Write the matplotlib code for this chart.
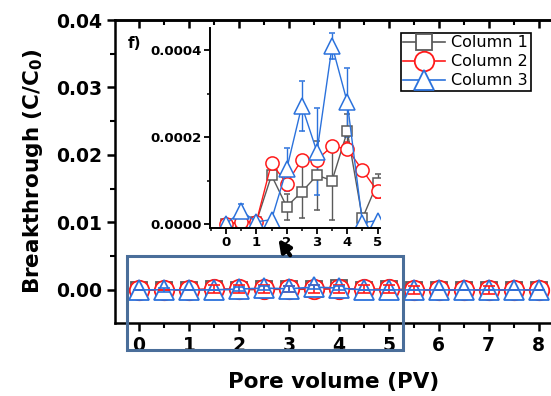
import numpy as np
import matplotlib.pyplot as plt
from matplotlib.patches import Rectangle
from matplotlib.ticker import MultipleLocator

# pore volume positions
pv = [0, 0.5, 1, 1.5, 2, 2.5, 3, 3.5, 4, 4.5, 5, 5.5, 6, 6.5, 7, 7.5, 8]

# breakthrough C/C0 for each column
col1 = [0, 0.000003, 0.000005, 0.000112, 0.00004, 0.000074, 0.000112, 0.0001,
        0.000213, 0.000013, 0.000095, 0.000002, 0, 0, 0.000001, 0, 0]
col2 = [0, 0.000005, 0.000005, 0.00014, 0.000093, 0.000148, 0.000148, 0.000179,
        0.000173, 0.000124, 0.000075, 0.00004, 0, 0, 0.00002, 0, 0]
col3 = [0, 0.00003, 0.000005, 0.00001, 0.000126, 0.000272, 0.000166, 0.00041,
        0.00028, 0.000003, 0.000008, 0, 0, 0, 0, 0, 0]

# error bars (inset scale)
err1 = [0, 0, 0.000003, 0.000005, 0.00003, 0.00006, 0.00008, 0.00009,
        0.00004, 0.000003, 0.00002, 0, 0, 0, 0, 0, 0]
err2 = [0, 0.000003, 0, 0.00001, 0.00001, 0.00001, 0.000006, 0.00001,
        0.000015, 0.000008, 0.000015, 0.00003, 0, 0, 0.00003, 0, 0]
err3 = [0, 0.000015, 0, 0, 0.00005, 0.000057, 0.0001, 0.00003,
        0.00008, 0, 0, 0, 0, 0, 0, 0, 0]

# error bars as they appear on the main axes
main_err2 = [0, 0, 0, 0.0006, 0.0006, 0.0006, 0.0004, 0.0006,
             0.0006, 0.0006, 0.0006, 0.0006, 0, 0, 0.0006, 0, 0]
main_err3 = [0, 0.0003, 0, 0, 0.0003, 0.0003, 0.0004, 0.0003,
             0.0003, 0, 0, 0, 0, 0, 0, 0, 0]

labels = ['Column 1', 'Column 2', 'Column 3']

GRAY = '#5a5a5a'
RED = '#ff1a1a'
BLUE = '#2b72dc'
BOX = '#4a6e9a'

plt.rcParams['font.family'] = 'DejaVu Sans'

W, H = 551, 396
fig = plt.figure(figsize=(W / 100, H / 100), dpi=100)

# ---------------- main axes ----------------
ax = fig.add_axes([115 / W, 1 - 323 / H, (552 - 115) / W, (323 - 20) / H])

styles = [(col1, 's', GRAY, 12), (col2, 'o', RED, 14), (col3, '^', BLUE, 15)]
handles = []
for (y, m, c, ms), lab in zip(styles, labels):
    h, = ax.plot(pv, y, marker=m, color=c, ms=ms, mfc='white', mec=c,
                 mew=1.3, lw=1.2, label=lab)
    handles.append(h)
ax.errorbar(pv, col2, yerr=main_err2, fmt='none', ecolor=RED, elinewidth=1.2,
            capsize=4, capthick=1.2, zorder=5)
ax.errorbar(pv, col3, yerr=main_err3, fmt='none', ecolor=BLUE, elinewidth=1.2,
            capsize=4, capthick=1.2, zorder=5)

ax.set_xlim(-0.48, 8.27)
ax.set_ylim(-0.0049, 0.04)
ax.xaxis.set_major_locator(MultipleLocator(1))
ax.xaxis.set_minor_locator(MultipleLocator(0.5))
ax.yaxis.set_major_locator(MultipleLocator(0.01))
ax.yaxis.set_minor_locator(MultipleLocator(0.005))
ax.yaxis.set_major_formatter(plt.FormatStrFormatter('%.2f'))
ax.spines['right'].set_visible(False)
for s in ['left', 'bottom', 'top']:
    ax.spines[s].set_linewidth(1.8)
ax.tick_params(axis='both', which='major', direction='out', length=6, width=1.8,
               labelsize=13.5, top=False, right=False)
ax.tick_params(axis='both', which='minor', direction='out', length=3.5, width=1.5,
               top=False, right=False)
for t in ax.get_xticklabels() + ax.get_yticklabels():
    t.set_fontweight('bold')

# top axis: inward ticks, no labels
top = ax.secondary_xaxis('top')
top.xaxis.set_major_locator(MultipleLocator(1))
top.xaxis.set_minor_locator(MultipleLocator(0.5))
top.tick_params(which='major', direction='in', length=6, width=1.8, labeltop=False)
top.tick_params(which='minor', direction='in', length=3.5, width=1.5)
top.spines['top'].set_linewidth(1.8)

ax.set_xlabel('Pore volume (PV)', fontsize=15.5, fontweight='bold', labelpad=12)
ax.set_ylabel('Breakthrough (C/C$_\\mathbf{0}$)', fontsize=15.5, fontweight='bold',
              labelpad=8)

leg = ax.legend(handles=handles, loc='upper left',
                bbox_to_anchor=(401 / W, 1 - 33 / H), bbox_transform=fig.transFigure,
                borderaxespad=0, fancybox=False, edgecolor='black', framealpha=1,
                fontsize=11.5, handlelength=2.6, handletextpad=0.4,
                labelspacing=0.25, borderpad=0.15)
leg.get_frame().set_linewidth(1.2)

# zoom box and arrow
ax.add_patch(Rectangle((-0.24, -0.0089), 5.53, 0.0139, fill=False, ec=BOX,
                       lw=2.2, clip_on=False, zorder=6))
ax.annotate('', xy=(2.76, 0.0079), xytext=(3.06, 0.0048),
            arrowprops=dict(arrowstyle='-|>', color='black', lw=3,
                            mutation_scale=18), zorder=7)

# ---------------- inset ----------------
ins = fig.add_axes([210 / W, 1 - 228 / H, 170 / W, 200 / H])
ins.patch.set_alpha(0)
inset_ms = [7.5, 9.5, 11]
for (y, m, c, ms), e, ims in zip(styles, [err1, err2, err3], inset_ms):
    ins.errorbar(pv, y, yerr=e, marker=m, color=c, ms=ims, mfc='white',
                 mec=c, mew=1.1, lw=1.0, ecolor=c, elinewidth=1.0,
                 capsize=2.5, capthick=1.0)
ins.set_xlim(-0.53, 5.08)
ins.set_ylim(-0.0000092, 0.000451)
ins.xaxis.set_major_locator(MultipleLocator(1))
ins.xaxis.set_minor_locator(MultipleLocator(0.5))
ins.yaxis.set_major_locator(MultipleLocator(0.0002))
ins.yaxis.set_minor_locator(MultipleLocator(0.0001))
ins.yaxis.set_major_formatter(plt.FormatStrFormatter('%.4f'))
ins.spines['top'].set_visible(False)
ins.spines['right'].set_visible(False)
for s in ['left', 'bottom']:
    ins.spines[s].set_linewidth(1.4)
ins.tick_params(which='major', direction='out', length=4, width=1.3,
                labelsize=9.5, pad=2)
ins.tick_params(which='minor', direction='out', length=2.5, width=1.1)
for t in ins.get_xticklabels() + ins.get_yticklabels():
    t.set_fontweight('bold')

fig.text(135 / W, 1 - 43 / H, 'f)', fontsize=11, fontweight='bold',
         ha='center', va='center')

fig.savefig('out.png', dpi=100)
